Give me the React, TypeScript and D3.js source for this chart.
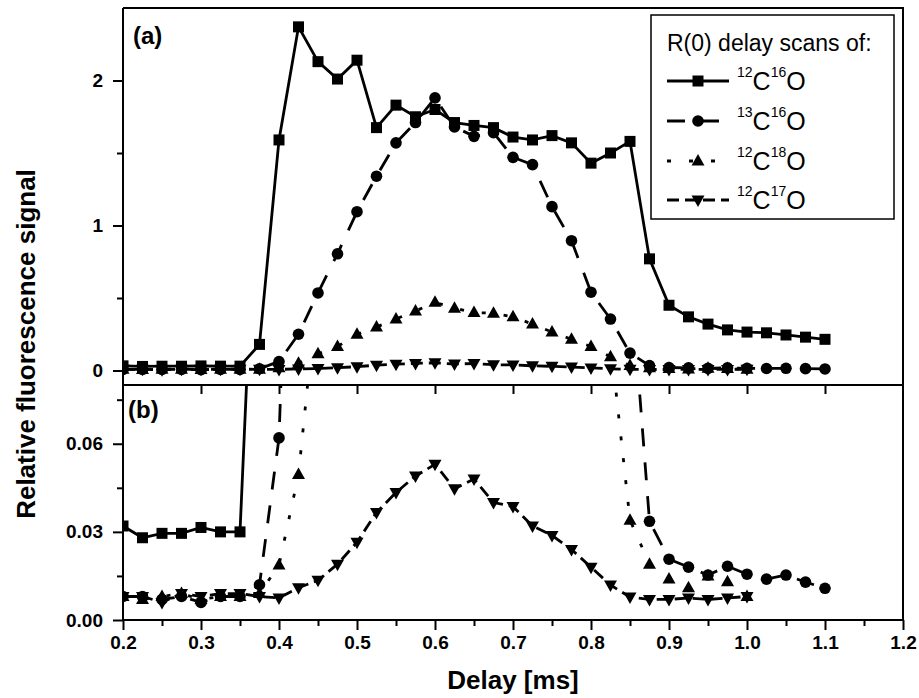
import React, { useRef, useEffect } from 'react';
import * as d3 from 'd3';

// delay values [ms]
const delayLong = [
  0.2, 0.225, 0.25, 0.275, 0.3, 0.325, 0.35, 0.375, 0.4, 0.425, 0.45, 0.475, 0.5,
  0.525, 0.55, 0.575, 0.6, 0.625, 0.65, 0.675, 0.7, 0.725, 0.75, 0.775, 0.8, 0.825,
  0.85, 0.875, 0.9, 0.925, 0.95, 0.975, 1.0, 1.025, 1.05, 1.075, 1.1,
];
const delayShort = [
  0.2, 0.225, 0.25, 0.275, 0.3, 0.325, 0.35, 0.375, 0.4, 0.425, 0.45, 0.475, 0.5,
  0.525, 0.55, 0.575, 0.6, 0.625, 0.65, 0.675, 0.7, 0.725, 0.75, 0.775, 0.8, 0.825,
  0.85, 0.875, 0.9, 0.925, 0.95, 0.975, 1.0,
];

// relative fluorescence signal
const c12o16 = [
  0.032, 0.028, 0.0295, 0.0295, 0.0315, 0.03, 0.03, 0.18, 1.59, 2.37, 2.13, 2.01, 2.14,
  1.675, 1.83, 1.75, 1.8, 1.71, 1.69, 1.675, 1.61, 1.59, 1.62, 1.57, 1.43, 1.5,
  1.58, 0.77, 0.45, 0.37, 0.32, 0.28, 0.265, 0.26, 0.245, 0.23, 0.215,
];
const c13o16 = [
  0.008, 0.008, 0.007, 0.008, 0.006, 0.008, 0.008, 0.012, 0.062, 0.25, 0.535, 0.805, 1.095,
  1.34, 1.57, 1.71, 1.88, 1.68, 1.615, 1.64, 1.47, 1.42, 1.13, 0.895, 0.54, 0.355,
  0.12, 0.0336, 0.0207, 0.018, 0.0153, 0.0183, 0.0156, 0.0139, 0.0153, 0.0129, 0.0108,
];
const c12o18 = [
  0.008, 0.007, 0.008, 0.009, 0.007, 0.008, 0.008, 0.009, 0.0187, 0.0495, 0.115, 0.165, 0.25,
  0.3, 0.355, 0.41, 0.47, 0.43, 0.4, 0.395, 0.37, 0.32, 0.265, 0.215, 0.165, 0.095,
  0.034, 0.019, 0.014, 0.011, 0.015, 0.013, 0.008,
];
const c12o17 = [
  0.008, 0.008, 0.006, 0.009, 0.008, 0.009, 0.009, 0.008, 0.0075, 0.011, 0.0135, 0.019, 0.0265,
  0.0366, 0.0434, 0.049, 0.053, 0.0447, 0.048, 0.04, 0.0386, 0.032, 0.0288, 0.024, 0.018, 0.0119,
  0.0078, 0.007, 0.007, 0.0075, 0.007, 0.0075, 0.008,
];

const xTicks = [0.2, 0.3, 0.4, 0.5, 0.6, 0.7, 0.8, 0.9, 1.0, 1.1, 1.2];
const xMinorTicks = [0.25, 0.35, 0.45, 0.55, 0.65, 0.75, 0.85, 0.95, 1.05, 1.15];
const xLabels = ['0.2', '0.3', '0.4', '0.5', '0.6', '0.7', '0.8', '0.9', '1.0', '1.1', '1.2'];
const topTicks = [0, 1, 2];
const topMinorTicks = [0.5, 1.5];
const topLabels = ['0', '1', '2'];
const bottomTicks = [0, 0.03, 0.06];
const bottomMinorTicks = [0.015, 0.045, 0.075];
const bottomLabels = ['0.00', '0.03', '0.06'];

const series = [
  { mass: ['12', '16'], x: delayLong, y: c12o16, symbol: 'square', dash: null },
  { mass: ['13', '16'], x: delayLong, y: c13o16, symbol: 'circle', dash: '18,16' },
  { mass: ['12', '18'], x: delayShort, y: c12o18, symbol: 'up', dash: '4,18' },
  { mass: ['12', '17'], x: delayShort, y: c12o17, symbol: 'down', dash: '12,6' },
];

const FONT = "'Liberation Sans', Arial, Helvetica, sans-serif";

const drawSymbol = (g, symbol, cx, cy) => {
  if (symbol === 'square') {
    g.append('rect').attr('x', cx - 5.5).attr('y', cy - 5.5).attr('width', 11).attr('height', 11).attr('fill', '#000');
  } else if (symbol === 'circle') {
    g.append('circle').attr('cx', cx).attr('cy', cy).attr('r', 5.8).attr('fill', '#000');
  } else if (symbol === 'up') {
    g.append('path').attr('d', `M${cx},${cy - 7}L${cx + 6.5},${cy + 4.5}L${cx - 6.5},${cy + 4.5}Z`).attr('fill', '#000');
  } else {
    g.append('path').attr('d', `M${cx},${cy + 7}L${cx + 6.5},${cy - 4.5}L${cx - 6.5},${cy - 4.5}Z`).attr('fill', '#000');
  }
};

const Chart = () => {
  const svgRef = useRef(null);

  useEffect(() => {
    const svg = d3.select(svgRef.current);
    svg.selectAll('*').remove();

    const left = 123, right = 903, top = 8, mid = 385, bottom = 620;

    const x = d3.scaleLinear().domain([0.2, 1.2]).range([left, right]);
    const yTop = d3.scaleLinear().domain([-0.1, 2.5]).range([mid, top]);
    const yBot = d3.scaleLinear().domain([0, 0.08]).range([bottom, mid]);

    const defs = svg.append('defs');
    defs.append('clipPath').attr('id', 'clipTop')
      .append('rect').attr('x', left).attr('y', top).attr('width', right - left).attr('height', mid - top);
    defs.append('clipPath').attr('id', 'clipBot')
      .append('rect').attr('x', left).attr('y', mid).attr('width', right - left).attr('height', bottom - mid);

    // data
    const panels = [
      { y: yTop, clip: 'clipTop', max: 2.6 },
      { y: yBot, clip: 'clipBot', max: 0.082 },
    ];
    panels.forEach((p) => {
      const g = svg.append('g').attr('clip-path', `url(#${p.clip})`);
      series.forEach((s) => {
        const pts = s.x.map((d, i) => [d, s.y[i]]);
        const line = d3.line().x((d) => x(d[0])).y((d) => p.y(d[1]));
        g.append('path')
          .datum(pts)
          .attr('d', line)
          .attr('fill', 'none')
          .attr('stroke', '#000')
          .attr('stroke-width', 2.8)
          .attr('stroke-dasharray', s.dash);
        pts.filter((d) => d[1] <= p.max).forEach((d) => drawSymbol(g, s.symbol, x(d[0]), p.y(d[1])));
      });
    });

    // axes
    const styleAxis = (g) => {
      g.select('.domain').remove();
      g.selectAll('line').attr('stroke', '#000').attr('stroke-width', 2);
      g.selectAll('text')
        .attr('font-family', FONT)
        .attr('font-weight', 'bold')
        .attr('font-size', 19)
        .attr('fill', '#000');
    };

    svg.append('g').attr('transform', `translate(${left},0)`)
      .call(d3.axisLeft(yTop).tickValues(topTicks).tickSize(10).tickPadding(10)
        .tickFormat((d, i) => topLabels[i]))
      .call(styleAxis);
    svg.append('g').attr('transform', `translate(${left},0)`)
      .call(d3.axisLeft(yTop).tickValues(topMinorTicks).tickSize(6).tickFormat(() => ''))
      .call(styleAxis);
    svg.append('g').attr('transform', `translate(${left},0)`)
      .call(d3.axisLeft(yBot).tickValues(bottomTicks).tickSize(10).tickPadding(10)
        .tickFormat((d, i) => bottomLabels[i]))
      .call(styleAxis);
    svg.append('g').attr('transform', `translate(${left},0)`)
      .call(d3.axisLeft(yBot).tickValues(bottomMinorTicks).tickSize(6).tickFormat(() => ''))
      .call(styleAxis);
    svg.append('g').attr('transform', `translate(0,${bottom})`)
      .call(d3.axisBottom(x).tickValues(xTicks).tickSize(10).tickPadding(6)
        .tickFormat((d, i) => xLabels[i]))
      .call(styleAxis);
    svg.append('g').attr('transform', `translate(0,${bottom})`)
      .call(d3.axisBottom(x).tickValues(xMinorTicks).tickSize(6).tickFormat(() => ''))
      .call(styleAxis);
    // ticks under the divider line
    svg.append('g').attr('transform', `translate(0,${mid})`)
      .call(d3.axisBottom(x).tickValues(xTicks.slice(1, -1)).tickSize(9).tickFormat(() => ''))
      .call(styleAxis);

    // frame
    const frame = svg.append('g').attr('stroke', '#000').attr('stroke-width', 2).attr('fill', 'none');
    frame.append('line').attr('x1', left).attr('x2', left).attr('y1', top).attr('y2', bottom + 1);
    frame.append('line').attr('x1', right).attr('x2', right).attr('y1', top).attr('y2', bottom);
    frame.append('line').attr('x1', left).attr('x2', right + 1).attr('y1', top).attr('y2', top);
    frame.append('line').attr('x1', left).attr('x2', right).attr('y1', mid).attr('y2', mid);
    frame.append('line').attr('x1', left - 1).attr('x2', right + 1).attr('y1', bottom).attr('y2', bottom);

    // panel labels
    svg.append('text').attr('x', 133).attr('y', 44).text('(a)')
      .attr('font-family', FONT).attr('font-weight', 'bold').attr('font-size', 24);
    svg.append('text').attr('x', 128).attr('y', 418).text('(b)')
      .attr('font-family', FONT).attr('font-weight', 'bold').attr('font-size', 24);

    // axis titles
    svg.append('text')
      .attr('transform', 'translate(35,344) rotate(-90)')
      .attr('text-anchor', 'middle')
      .attr('font-family', FONT).attr('font-weight', 'bold').attr('font-size', 26)
      .text('Relative fluorescence signal');
    svg.append('text')
      .attr('x', 513).attr('y', 689)
      .attr('text-anchor', 'middle')
      .attr('font-family', FONT).attr('font-weight', 'bold').attr('font-size', 26)
      .text('Delay [ms]');

    // legend
    const lg = svg.append('g');
    lg.append('rect').attr('x', 651).attr('y', 15).attr('width', 243).attr('height', 204)
      .attr('fill', '#fff').attr('stroke', '#000').attr('stroke-width', 1.5);
    lg.append('text').attr('x', 667).attr('y', 51)
      .attr('font-family', FONT).attr('font-size', 23)
      .text('R(0) delay scans of:');
    const rowY = [81, 121, 161, 200];
    series.forEach((s, i) => {
      const cy = rowY[i];
      lg.append('line').attr('x1', 667).attr('x2', 729).attr('y1', cy).attr('y2', cy)
        .attr('stroke', '#000').attr('stroke-width', 2.8).attr('stroke-dasharray', s.dash);
      drawSymbol(lg, s.symbol, 698, cy);
      const t = lg.append('text').attr('x', 737).attr('y', cy + 9)
        .attr('font-family', FONT).attr('font-size', 25);
      t.append('tspan').attr('font-size', 14).attr('dy', -13).text(s.mass[0]);
      t.append('tspan').attr('dy', 13).text('C');
      t.append('tspan').attr('font-size', 14).attr('dy', -13).text(s.mass[1]);
      t.append('tspan').attr('dy', 13).text('O');
    });
  }, []);

  return <svg ref={svgRef} width={919} height={698} style={{ position: 'absolute', left: 0, top: 0, background: '#fff' }} />;
};

export default function App() {
  return <Chart />;
}
